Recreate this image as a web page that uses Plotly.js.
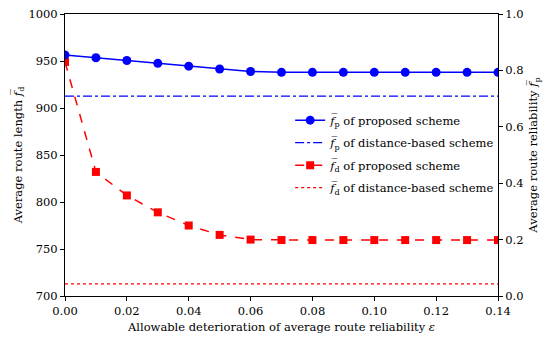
<!DOCTYPE html>
<html>
<head>
<meta charset="utf-8">
<script src="https://cdn.plot.ly/plotly-3.0.1.min.js"></script>
<style>html,body{margin:0;padding:0;background:#fff;}#chart{width:550px;height:341px;}</style>
</head>
<body>
<div id="chart"></div>
<script>
var epsilon = [0.00,0.01,0.02,0.03,0.04,0.05,0.06,0.07,0.08,0.09,0.10,0.11,0.12,0.13,0.14];
var fpProposed = [0.855,0.845,0.835,0.825,0.815,0.805,0.796,0.793,0.793,0.793,0.793,0.793,0.793,0.793,0.793];
var fpDistance = [0.709,0.709];
var fdProposed = [949,832,807,789,775,765,760,759.5,759.5,759.5,759.5,759.5,759.5,759.5,759.5];
var fdDistance = [713,713];
var lineX = [0.00,0.14];
var legendNames = [
  "<i>f̅</i><sub>p</sub> of proposed scheme",
  "<i>f̅</i><sub>p</sub> of distance-based scheme",
  "<i>f̅</i><sub>d</sub> of proposed scheme",
  "<i>f̅</i><sub>d</sub> of distance-based scheme"
];
var xTicks = [0.00,0.02,0.04,0.06,0.08,0.10,0.12,0.14];
var xTickText = ["0.00","0.02","0.04","0.06","0.08","0.10","0.12","0.14"];
var yTicks = [700,750,800,850,900,950,1000];
var y2Ticks = [0.0,0.2,0.4,0.6,0.8,1.0];
var y2TickText = ["0.0","0.2","0.4","0.6","0.8","1.0"];

var font = {family: "'DejaVu Serif', 'Liberation Serif', serif", size: 11.5, color: "#000"};
var traces = [
  {x: epsilon, y: fpProposed, yaxis: "y2", name: legendNames[0], legendgroup: "a", mode: "lines+markers",
   line: {color: "#0000ff", width: 1.5}, marker: {symbol: "circle", size: 9, color: "#0000ff"}},
  {x: lineX, y: fpDistance, yaxis: "y2", name: legendNames[1], legendgroup: "b", mode: "lines",
   line: {color: "#0000ff", width: 1.2, dash: "dashdot"}},
  {x: epsilon, y: fdProposed, yaxis: "y", name: legendNames[2], legendgroup: "c", mode: "lines+markers",
   line: {color: "#ff0000", width: 1.5, dash: "dash"}, marker: {symbol: "square", size: 8, color: "#ff0000"}},
  {x: lineX, y: fdDistance, yaxis: "y", name: legendNames[3], legendgroup: "d", mode: "lines",
   line: {color: "#ff0000", width: 1.2, dash: "dot"}}
];
var layout = {
  width: 550, height: 341,
  margin: {l: 65, r: 52, t: 14, b: 45},
  paper_bgcolor: "#fff", plot_bgcolor: "#fff",
  font: font,
  showlegend: true,
  legend: {x: 0.52, y: 0.675, xanchor: "left", yanchor: "top", bgcolor: "rgba(255,255,255,0)",
           borderwidth: 0, font: {family: font.family, size: 11.5, color: "#000"}, tracegroupgap: 3.5, itemwidth: 30},
  xaxis: {range: [0, 0.14], tickvals: xTicks, ticktext: xTickText, showgrid: false, zeroline: false,
          showline: true, linecolor: "#000", linewidth: 1, mirror: true, ticks: "outside", ticklen: 4, tickcolor: "#000",
          title: {text: "Allowable deterioration of average route reliability <i>ε</i>", standoff: 6, font: {family: font.family, size: 11.5}}},
  yaxis: {range: [700, 1000], tickvals: yTicks, showgrid: false, zeroline: false,
          showline: true, linecolor: "#000", linewidth: 1, ticks: "outside", ticklen: 4, tickcolor: "#000",
          title: {text: "Average route length <i>f̅</i><sub>d</sub>", standoff: 3, font: {family: font.family, size: 11.5}}},
  yaxis2: {range: [0, 1], overlaying: "y", side: "right", tickvals: y2Ticks, ticktext: y2TickText, showgrid: false, zeroline: false,
           showline: true, linecolor: "#000", linewidth: 1, ticks: "outside", ticklen: 4, tickcolor: "#000",
           title: {text: "Average route reliability <i>f̅</i><sub>p</sub>", standoff: 6, font: {family: font.family, size: 11.5}}}
};
Plotly.newPlot("chart", traces, layout, {displayModeBar: false, staticPlot: true});
</script>
</body>
</html>
